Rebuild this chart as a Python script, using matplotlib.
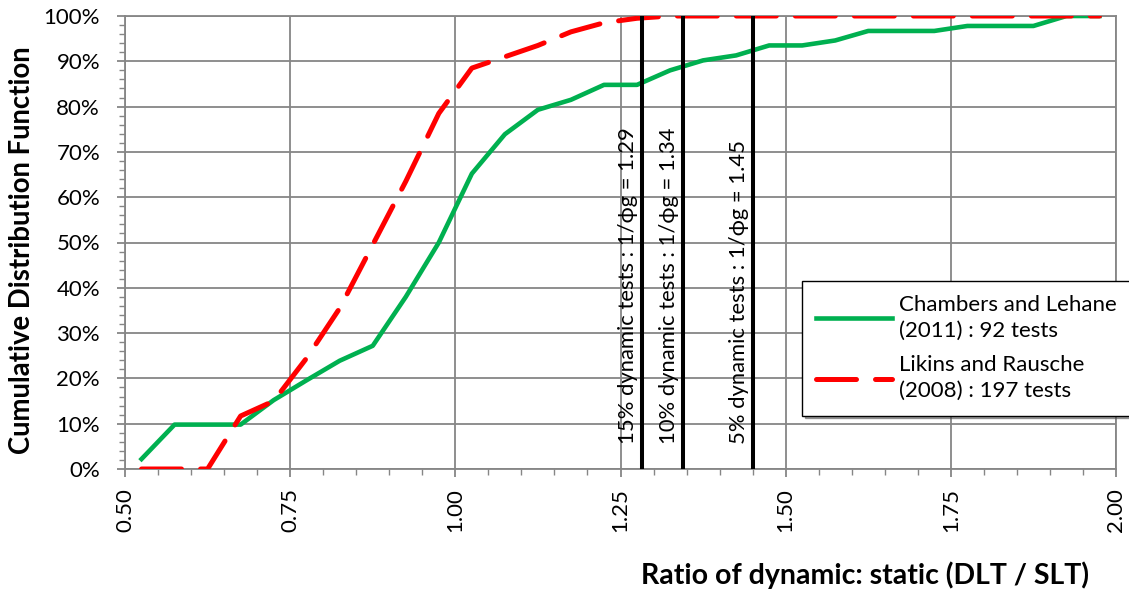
import numpy as np
import matplotlib
matplotlib.use('Agg')
import matplotlib.pyplot as plt
from matplotlib.ticker import MultipleLocator, PercentFormatter

plt.rcParams['font.family'] = ['Lato', 'DejaVu Sans']

# bin centres (ratio DLT / SLT)
ratio = [0.525, 0.575, 0.625, 0.675, 0.725, 0.775, 0.825, 0.875, 0.925, 0.975,
         1.025, 1.075, 1.125, 1.175, 1.225, 1.275, 1.325, 1.375, 1.425, 1.475,
         1.525, 1.575, 1.625, 1.675, 1.725, 1.775, 1.825, 1.875, 1.925, 1.975]

# Chambers and Lehane (2011) : 92 tests
chambers = [2.2, 9.8, 9.8, 9.8, 15.2, 19.6, 23.9, 27.2, 38.0, 50.0,
            65.2, 73.9, 79.3, 81.5, 84.8, 84.8, 88.0, 90.2, 91.3, 93.5,
            93.5, 94.6, 96.7, 96.7, 96.7, 97.8, 97.8, 97.8, 100, 100]

# Likins and Rausche (2008) : 197 tests
likins = [0, 0, 0, 11.7, 15.0, 24.5, 35.5, 49.5, 63.5, 78.5,
          88.5, 91.0, 93.5, 96.5, 98.5, 99.5, 100, 100, 100, 100,
          100, 100, 100, 100, 100, 100, 100, 100, 100, 100]

# vertical lines as drawn in the picture, and their labels
limits = [1.283, 1.345, 1.45]
limit_labels = ['15% dynamic tests : 1/\u03d5g = 1.29',
                '10% dynamic tests : 1/\u03d5g = 1.34',
                '5% dynamic tests : 1/\u03d5g = 1.45']

fig = plt.figure(figsize=(11.29, 5.90), dpi=100)
ax = fig.add_axes([125/1129, 1 - 469/590, (1116 - 125)/1129, (469 - 16)/590])

grid_col = '#868686'

ax.plot(ratio, chambers, color='#00B050', lw=3.3, solid_joinstyle='round',
        label='Chambers and Lehane\n(2011) : 92 tests', zorder=3)
ax.plot(ratio, likins, color='#FF0000', lw=3.6, dashes=(8, 3.8),
        dash_capstyle='round', label='Likins and Rausche\n(2008) : 197 tests', zorder=3)

for x, lab in zip(limits, limit_labels):
    ax.plot([x, x], [0, 100], color='black', lw=2.9, zorder=4)
    ax.text(x - 0.021, 5.5, lab, rotation=90, ha='center', va='bottom',
            fontsize=15.8, color='black', zorder=5)

ax.set_xlim(0.5, 2.0)
ax.set_ylim(0, 100)
ax.xaxis.set_minor_locator(MultipleLocator(0.05))
ax.yaxis.set_major_locator(MultipleLocator(10))
ax.yaxis.set_minor_locator(MultipleLocator(2))
ax.yaxis.set_major_formatter(PercentFormatter(decimals=0))
xt = np.arange(0.5, 2.01, 0.25)
ax.set_xticks(xt)
ax.set_xticklabels(['%.2f' % v for v in xt], rotation=90)

ax.grid(True, which='major', color=grid_col, lw=1.3)
ax.set_axisbelow(True)
for s in ax.spines.values():
    s.set_color(grid_col)
    s.set_linewidth(1.3)
ax.tick_params(which='major', direction='out', length=6, width=1.3, color=grid_col,
               labelsize=16)
ax.tick_params(axis='y', which='major', pad=12)
ax.tick_params(axis='x', which='major', pad=8)
ax.tick_params(which='minor', direction='out', length=4, width=1.0, color=grid_col)

fig.text(22/1129, 1 - 250/590, 'Cumulative Distribution Function', rotation=90,
         fontsize=19.8, fontweight='bold', ha='center', va='center')
fig.text(865/1129, 1 - 575/590, 'Ratio of dynamic: static (DLT / SLT)',
         fontsize=20.5, fontweight='bold', ha='center', va='center')

leg = ax.legend(loc='upper left', bbox_to_anchor=(802/1129, 1 - 281/590),
                bbox_transform=fig.transFigure, fontsize=16, handlelength=3.4,
                labelspacing=0.65, borderpad=0.65, handletextpad=0.3,
                borderaxespad=0, fancybox=False, shadow=True, framealpha=1)
for t in leg.get_texts():
    t.set_linespacing(1.35)
leg.get_frame().set_edgecolor('black')
leg.get_frame().set_linewidth(1.0)

fig.savefig('out.png', dpi=100)
